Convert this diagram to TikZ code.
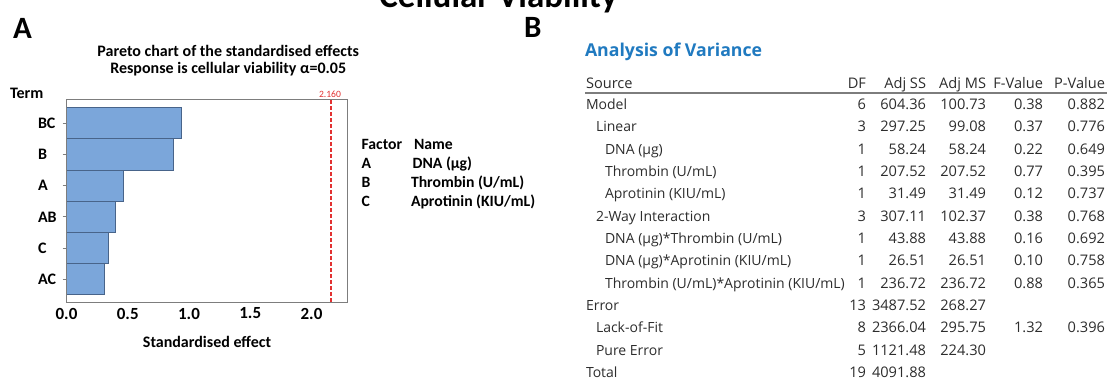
\documentclass[tikz,border=0pt]{standalone}
\usepackage{fontspec}
\setmainfont{Carlito}
\newfontfamily\tblfont{Open Sans}
\definecolor{barfill}{RGB}{123,166,218}
\definecolor{baredge}{RGB}{72,100,138}
\definecolor{refred}{RGB}{226,50,50}
\definecolor{minblue}{RGB}{32,122,192}
\definecolor{tbltext}{RGB}{45,45,45}
\definecolor{axisgray}{RGB}{125,125,125}
\newcommand\trow[9]{%
  \node[tbl,anchor=base west] (#1) at (#3,#2+5.2) {#4};
  \node[tblnum,anchor=base east] (#1-df) at (866,#2+5.2) {#5};
  \node[tblnum,anchor=base east] (#1-ss) at (926,#2+5.2) {#6};
  \node[tblnum,anchor=base east] (#1-ms) at (986,#2+5.2) {#7};
  \node[tblnum,anchor=base east] (#1-f) at (1043,#2+5.2) {#8};
  \node[tblnum,anchor=base east] (#1-p) at (1105,#2+5.2) {#9};}
\newcommand\trowshort[7]{%
  \node[tbl,anchor=base west] (#1) at (#3,#2+5.2) {#4};
  \node[tblnum,anchor=base east] (#1-df) at (866,#2+5.2) {#5};
  \node[tblnum,anchor=base east] (#1-ss) at (926,#2+5.2) {#6};
  \ifx\relax#7\relax\else
  \node[tblnum,anchor=base east] (#1-ms) at (986,#2+5.2) {#7};\fi}
\begin{document}
\begin{tikzpicture}[x=1pt,y=-1pt,
  every node/.style={inner sep=0pt,outer sep=0pt},
  panel/.style={font=\bfseries\fontsize{31}{33}\selectfont},
  ttl/.style={font=\bfseries\fontsize{16}{18}\selectfont},
  termlbl/.style={font=\bfseries\fontsize{16}{18}\selectfont},
  ticklbl/.style={font=\bfseries\fontsize{17}{19}\selectfont},
  legend/.style={font=\bfseries\fontsize{15.7}{18}\selectfont},
  bar/.style={fill=barfill,draw=baredge,line width=0.9pt},
  frame/.style={draw=axisgray,line width=1pt},
  tbl/.style={font=\tblfont\fontsize{14}{17}\selectfont,text=tbltext},
  tblnum/.style={font=\tblfont\fontsize{14.6}{17}\selectfont,text=tbltext},
  anovatitle/.style={font=\tblfont\bfseries\fontsize{17.7}{20}\selectfont,text=minblue}]
\clip (0,0) rectangle (1107,381);
\fill[white] (0,0) rectangle (1107,381);

% top title (cut off by the top edge, as in the reference)
\node[anchor=base,font=\bfseries\fontsize{35}{38}\selectfont] (maintitle) at (498.5,7.5) {Cellular Viability};

% panel letters
\node[panel,anchor=base west] (letA) at (13,38.5) {A};
\node[panel,anchor=base west] (letB) at (524,37.5) {B};

% ---------- Panel A ----------
\node[ttl,anchor=base] (t1) at (228.2,56) {Pareto chart of the standardised effects};
\node[ttl,anchor=base] (t2) at (228.2,73) {Response is cellular viability α=0.05};
\node[termlbl,anchor=base west] (term) at (10,98) {Term};

\foreach \lab/\v [count=\i from 0] in {BC/0.94,B/0.872,A/0.468,AB/0.40,C/0.34,AC/0.313} {
  \pgfmathsetmacro\yt{107.7+31.2*\i}
  \draw[bar] (66.5,\yt) rectangle ({66.5+122.5*\v},\yt+31.2);
  \draw[axisgray,line width=0.9pt] (62.5,\yt+15.6) -- (66.5,\yt+15.6);
  \node[termlbl,anchor=west] (lbl-\lab) at (38,\yt+15.6) {\lab};
}
\draw[frame] (66.5,99.5) rectangle (347.5,302.5);
\draw[draw=refred,line width=1.3pt,dash pattern=on 3.5pt off 2.5pt] (331.1,100) -- (331.1,302);
\node[anchor=center,text=refred,font=\fontsize{9.6}{11}\selectfont] (reflbl) at (330,94) {2.160};

\foreach \v/\t in {0/0.0,0.5/0.5,1/1.0,1.5/1.5,2/2.0} {
  \node[ticklbl,anchor=center] (tick-\t) at ({66.5+122.5*\v},313.5) {\t};
}
\node[ttl,anchor=center] (xlabel) at (207,341.5) {Standardised effect};

% legend
\node[legend,anchor=base west] (lg-factor) at (361.7,149) {Factor};
\node[legend,anchor=base west] (lg-name) at (414,149) {Name};
\node[legend,anchor=base west] (lg-a) at (361.7,168.5) {A};
\node[legend,anchor=base west] (lg-an) at (412.7,168.5) {DNA (µg)};
\node[legend,anchor=base west] (lg-b) at (361.7,187.2) {B};
\node[legend,anchor=base west] (lg-bn) at (411,187.2) {Thrombin (U/mL)};
\node[legend,anchor=base west] (lg-c) at (361.7,206) {C};
\node[legend,anchor=base west] (lg-cn) at (411,206) {Aprotinin (KIU/mL)};

% ---------- Panel B ----------
\node[anovatitle,anchor=base west] (anova) at (585,56) {Analysis of Variance};

\node[tblnum,anchor=base west] (h-src) at (586,88.7) {Source};
\node[tblnum,anchor=base east] (h-df) at (866,88.7) {DF};
\node[tblnum,anchor=base east] (h-ss) at (926,88.7) {Adj SS};
\node[tblnum,anchor=base east] (h-ms) at (986,88.7) {Adj MS};
\node[tblnum,anchor=base east] (h-f) at (1043,88.7) {F-Value};
\node[tblnum,anchor=base east] (h-p) at (1105,88.7) {P-Value};
\draw[draw=axisgray,line width=1.6pt] (585,92.8) -- (1107,92.8);

\trow{r1}{104.2}{586}{Model}{6}{604.36}{100.73}{0.38}{0.882}
\trow{r2}{126.5}{596}{Linear}{3}{297.25}{99.08}{0.37}{0.776}
\trow{r3}{148.9}{605}{DNA (µg)}{1}{58.24}{58.24}{0.22}{0.649}
\trow{r4}{171.2}{605}{Thrombin (U/mL)}{1}{207.52}{207.52}{0.77}{0.395}
\trow{r5}{193.6}{605}{Aprotinin (KIU/mL)}{1}{31.49}{31.49}{0.12}{0.737}
\trow{r6}{215.9}{596}{2-Way Interaction}{3}{307.11}{102.37}{0.38}{0.768}
\trow{r7}{238.3}{605}{DNA (µg)*Thrombin (U/mL)}{1}{43.88}{43.88}{0.16}{0.692}
\trow{r8}{260.6}{605}{DNA (µg)*Aprotinin (KIU/mL)}{1}{26.51}{26.51}{0.10}{0.758}
\trow{r9}{283}{605}{Thrombin (U/mL)*Aprotinin (KIU/mL)}{1}{236.72}{236.72}{0.88}{0.365}
\trowshort{r10}{305.3}{586}{Error}{13}{3487.52}{268.27}
\trow{r11}{327.7}{596}{Lack-of-Fit}{8}{2366.04}{295.75}{1.32}{0.396}
\trowshort{r12}{350}{596}{Pure Error}{5}{1121.48}{224.30}
\trowshort{r13}{372.4}{586}{Total}{19}{4091.88}{}
\end{tikzpicture}
\end{document}
